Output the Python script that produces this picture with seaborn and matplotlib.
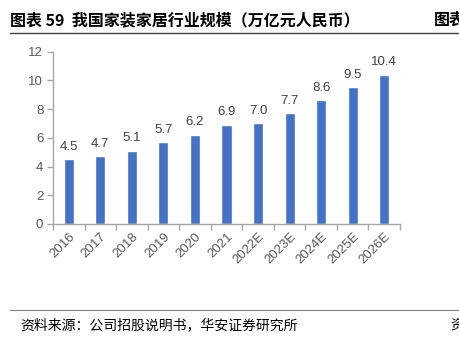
import matplotlib
matplotlib.use("Agg")
import matplotlib.pyplot as plt
import seaborn as sns
import pandas as pd

years = ["2016", "2017", "2018", "2019", "2020", "2021", "2022E", "2023E", "2024E", "2025E", "2026E"]
values = [4.5, 4.7, 5.1, 5.7, 6.2, 6.9, 7.0, 7.7, 8.6, 9.5, 10.4]
yticks = [0, 2, 4, 6, 8, 10, 12]
title = "图表 59  我国家装家居行业规模（万亿元人民币）"
title_right = "图表"
source = "资料来源：公司招股说明书，华安证券研究所"
source_right = "资"

sns.set_theme(style="white")
plt.rcParams['font.family'] = ['Noto Sans CJK SC', 'DejaVu Sans']

df = pd.DataFrame({"year": years, "value": values})

fig = plt.figure(figsize=(4.6, 3.4), dpi=100)
ax = fig.add_axes([53/460, 1-224/340, (400-53)/460, (224-51.5)/340])
sns.barplot(data=df, x="year", y="value", color="#4472C4", saturation=1, width=0.32, ax=ax)

for i, v in enumerate(values):
    ax.text(i, v + 0.45, f"{v:.1f}", ha="center", va="bottom", fontsize=9.5,
            color="#404040", family=["Liberation Sans", "DejaVu Sans"])

ax.set_ylim(0, 12)
ax.set_xlim(-0.5, len(years) - 0.5)
ax.set_yticks(yticks)
ax.set_yticklabels([str(t) for t in yticks], family=["Liberation Sans", "DejaVu Sans"], fontsize=9.5, color="#595959")
ax.set_xticks(range(len(years)))
ax.set_xticklabels(years, rotation=45, ha="right", rotation_mode="anchor",
                   family=["Liberation Sans", "DejaVu Sans"], fontsize=9.5, color="#595959")
ax.set_xticks([i - 0.5 for i in range(len(years) + 1)], minor=True)
ax.tick_params(axis="x", which="major", length=0, pad=5)
ax.tick_params(axis="x", which="minor", length=4, color="#A6A6A6", width=1, direction="out", bottom=True)
ax.tick_params(axis="y", length=4, color="#A6A6A6", width=1, direction="out", left=True, pad=3)
ax.set_xlabel("")
ax.set_ylabel("")
for s in ["top", "right"]:
    ax.spines[s].set_visible(False)
for s in ["left", "bottom"]:
    ax.spines[s].set_color("#A6A6A6")
    ax.spines[s].set_linewidth(1)

fig.text(10/460, 1-20/340, title, fontsize=11.5, fontweight="bold", color="#000000", va="center", ha="left")
fig.text(434/460, 1-20/340, title_right, fontsize=11.5, fontweight="bold", color="#000000", va="center", ha="left")
fig.add_artist(plt.Line2D([10/460, 1], [1-33/340, 1-33/340], color="#404040", lw=1))
fig.add_artist(plt.Line2D([10/460, 1], [1-310/340, 1-310/340], color="#808080", lw=0.8))
fig.text(20/460, 1-325/340, source, fontsize=10, color="#000000", va="center", ha="left")
fig.text(450/460, 1-325/340, source_right, fontsize=10, color="#000000", va="center", ha="left")

fig.savefig("out.png", dpi=100)
